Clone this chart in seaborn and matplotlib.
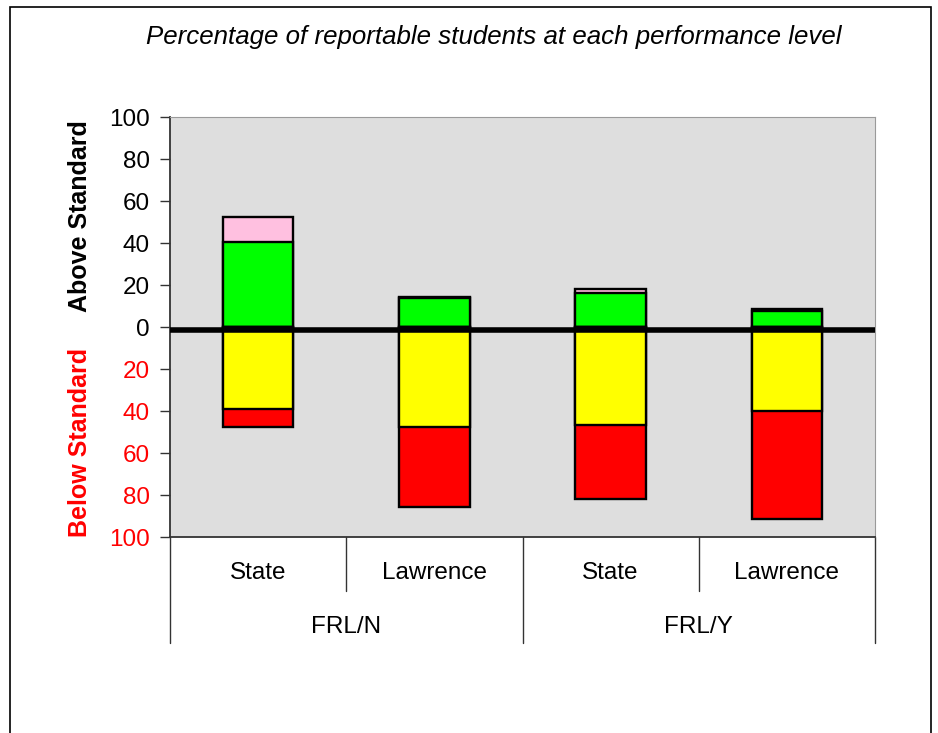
import matplotlib
matplotlib.use("Agg")
import matplotlib.pyplot as plt
from matplotlib.patches import Rectangle
import pandas as pd
import seaborn as sns

# one bar per school within each FRL group
bars = ["FRL/N State", "FRL/N Lawrence", "FRL/Y State", "FRL/Y Lawrence"]
schools = ["State", "Lawrence", "State", "Lawrence"]
groups = ["FRL/N", "FRL/Y"]

# percent of students at each level
advanced = [11.9, 0.5, 2.0, 1.2]
proficient = [40.6, 14.0, 16.0, 7.4]
basic = [39.0, 47.5, 46.5, 39.8]
below_basic = [8.8, 38.2, 35.5, 51.6]

yticks = [-100, -80, -60, -40, -20, 0, 20, 40, 60, 80, 100]

df = pd.DataFrame({
    "bar": bars,
    "above_total": [a + p for a, p in zip(advanced, proficient)],
    "proficient": proficient,
    "below_total": [-(b + bb) for b, bb in zip(basic, below_basic)],
    "basic": [-b for b in basic],
})

sns.set_theme(style="white")
plt.rcParams["font.family"] = ["Liberation Sans", "DejaVu Sans"]
plt.rcParams["text.color"] = "black"

fig = plt.figure(figsize=(9.38, 7.33), dpi=100)
ax = fig.add_axes([170 / 938, 1 - 537 / 733, 705 / 938, 420 / 733])
ax.set_facecolor("#dedede")

# larger stack first, then the inner segment on top of it
layers = [("above_total", "#ffc0e0"), ("proficient", "#00ff00"),
          ("below_total", "#ff0000"), ("basic", "#ffff00")]
for col, color in layers:
    sns.barplot(data=df, x="bar", y=col, order=bars, color=color, saturation=1,
                width=0.4, edgecolor="black", linewidth=1.7, errorbar=None, ax=ax)

ax.axhline(-1.2, color="black", lw=4, zorder=5)

ax.set_xlim(-0.5, 3.5)
ax.set_ylim(-100, 100)
ax.set_yticks(yticks)
ax.set_yticklabels([str(abs(t)) for t in yticks], fontsize=17.5)
for t, lab in zip(yticks, ax.get_yticklabels()):
    lab.set_color("#ff0000" if t < 0 else "black")
ax.tick_params(axis="y", left=True, length=7, width=1, color="#333333", pad=7.5)
ax.set_xticks([])
ax.set_xlabel("")
ax.set_ylabel("")
for side in ["left", "bottom"]:
    ax.spines[side].set_color("#333333")
    ax.spines[side].set_linewidth(1.3)
for side in ["top", "right"]:
    ax.spines[side].set_color("#9a9a9a")
    ax.spines[side].set_linewidth(0.8)

# category table below the axis
trans = ax.get_xaxis_transform()
for x in [0.5, 2.5]:
    ax.plot([x, x], [0, -0.128], transform=trans, color="#333333", lw=1, clip_on=False)
for x in [-0.5, 1.5, 3.5]:
    ax.plot([x, x], [0, -0.253], transform=trans, color="#333333", lw=1, clip_on=False)
for i, name in enumerate(schools):
    ax.text(i, -0.086, name, transform=trans, ha="center", va="center", fontsize=17.5, color="black")
for i, name in enumerate(groups):
    ax.text(2 * i + 0.5, -0.214, name, transform=trans, ha="center", va="center", fontsize=17.5,
            color="black")

fig.text(494 / 938, 1 - 37 / 733, "Percentage of reportable students at each performance level",
         ha="center", va="center", fontsize=18.6, style="italic", color="black")
fig.text(80 / 938, 1 - 216 / 733, "Above Standard", rotation=90, ha="center", va="center",
         fontsize=18, fontweight="bold", color="black")
fig.text(80 / 938, 1 - 442 / 733, "Below Standard", rotation=90, ha="center", va="center",
         fontsize=18, fontweight="bold", color="#ff0000")

fig.patches.append(Rectangle((10 / 938, -0.05), 921 / 938, 1.05 - 7 / 733,
                             transform=fig.transFigure, fill=False, edgecolor="black", lw=1.2))

fig.savefig("out.png", dpi=100)
